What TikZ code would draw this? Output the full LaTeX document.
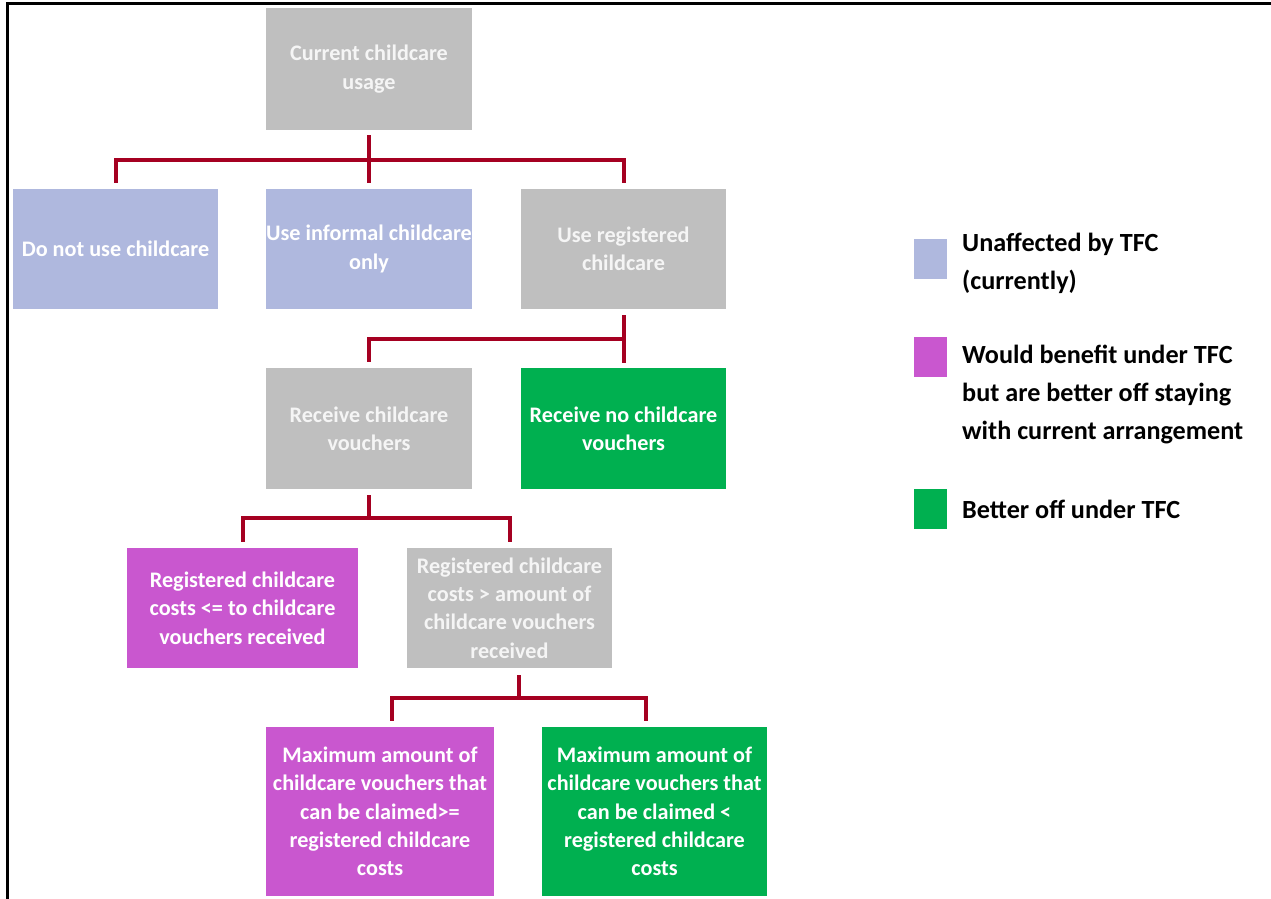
\documentclass[tikz,border=0pt]{standalone}
\usepackage{fontspec}
\setmainfont{Carlito}
\definecolor{boxgray}{HTML}{BFBFBF}
\definecolor{boxblue}{HTML}{AFB8DE}
\definecolor{boxpurple}{HTML}{C957CF}
\definecolor{boxgreen}{HTML}{00B050}
\definecolor{connred}{HTML}{A50021}
\tikzset{
  box/.style={draw=none, inner sep=0pt, align=center, text=white,
    font=\fontsize{22.2}{28.3}\selectfont\bfseries},
  graybox/.style={box, fill=boxgray, text=white!96!black},
  bluebox/.style={box, fill=boxblue},
  purplebox/.style={box, fill=boxpurple},
  greenbox/.style={box, fill=boxgreen},
  conn/.style={draw=connred, line width=4pt},
  legsq/.style={draw=none, inner sep=0pt, minimum width=33pt, minimum height=40pt},
  legtext/.style={inner sep=0pt, align=left, anchor=west, text=black,
    font=\fontsize{26.2}{38}\selectfont\bfseries},
}
\begin{document}
\begin{tikzpicture}[x=1pt, y=-1pt]
\useasboundingbox (0,0) rectangle (1271,899);
\fill[white] (0,0) rectangle (1271,899);
% frame
\draw[line width=3pt, black] (7,899) -- (7,4) -- (1271,4);

% nodes
\node[graybox, minimum width=206pt, minimum height=122pt] (cur) at (369,69) {Current childcare\\usage};
\node[bluebox, minimum width=205pt, minimum height=120pt] (none) at (115.5,249) {Do not use childcare};
\node[bluebox, minimum width=206pt, minimum height=120pt] (inf) at (369,249) {Use informal childcare\\only};
\node[graybox, minimum width=205pt, minimum height=120pt] (reg) at (623.5,249) {Use registered\\childcare};
\node[graybox, minimum width=206pt, minimum height=121pt] (rv) at (369,428.5) {Receive childcare\\vouchers};
\node[greenbox, minimum width=205pt, minimum height=121pt] (rnv) at (623.5,428.5) {Receive no childcare\\vouchers};
\node[purplebox, minimum width=231pt, minimum height=120pt] (rle) at (242.5,608) {Registered childcare\\costs <= to childcare\\vouchers received};
\node[graybox, minimum width=205pt, minimum height=120pt] (rgt) at (509.5,608) {Registered childcare\\costs > amount of\\childcare vouchers\\received};
\node[purplebox, minimum width=228pt, minimum height=169pt] (mge) at (380,811.5) {Maximum amount of\\childcare vouchers that\\can be claimed>=\\registered childcare\\costs};
\node[greenbox, minimum width=225pt, minimum height=169pt] (mlt) at (654.5,811.5) {Maximum amount of\\childcare vouchers that\\can be claimed <\\registered childcare\\costs};

% junction coordinates
\coordinate (j1) at (369,160);
\coordinate (j2) at (369,339);
\coordinate (j3) at (369,518);
\coordinate (j4) at (519,698);

% connectors
\draw[conn] ([yshift=-5pt]cur.south) -- ([yshift=6pt]inf.north);
\draw[conn] ([yshift=6pt]none.north) -- (none.north |- j1) -- (reg.north |- j1) -- ([yshift=6pt]reg.north);

\draw[conn] ([yshift=-6pt]reg.south) -- ([yshift=5pt]rnv.north);
\draw[conn] (reg.south |- j2) -- (rv.north |- j2) -- ([yshift=6pt]rv.north);

\draw[conn] ([yshift=-6pt]rv.south) -- (rv.south |- j3);
\draw[conn] ([yshift=6pt]rle.north) -- (rle.north |- j3) -- (rgt.north |- j3) -- ([yshift=6pt]rgt.north);

\draw[conn] ([yshift=-7pt,xshift=9.5pt]rgt.south) -- (j4);
\draw[conn] ([yshift=6pt,xshift=12pt]mge.north) -- ([xshift=12pt]mge.north |- j4) -- ([xshift=-8.5pt]mlt.north |- j4) -- ([yshift=6pt,xshift=-8.5pt]mlt.north);

% legend
\node[legsq, fill=boxblue] (lg1) at (930.5,259) {};
\node[legsq, fill=boxpurple] (lg2) at (930.5,357) {};
\node[legsq, fill=boxgreen] (lg3) at (930.5,509) {};
\node[legtext] (lt1) at (962,263.5) {Unaffected by TFC\\(currently)};
\node[legtext] (lt2) at (962,395) {Would benefit under TFC\\but are better off staying\\with current arrangement};
\node[legtext] (lt3) at (962,509) {Better off under TFC};
\end{tikzpicture}
\end{document}
